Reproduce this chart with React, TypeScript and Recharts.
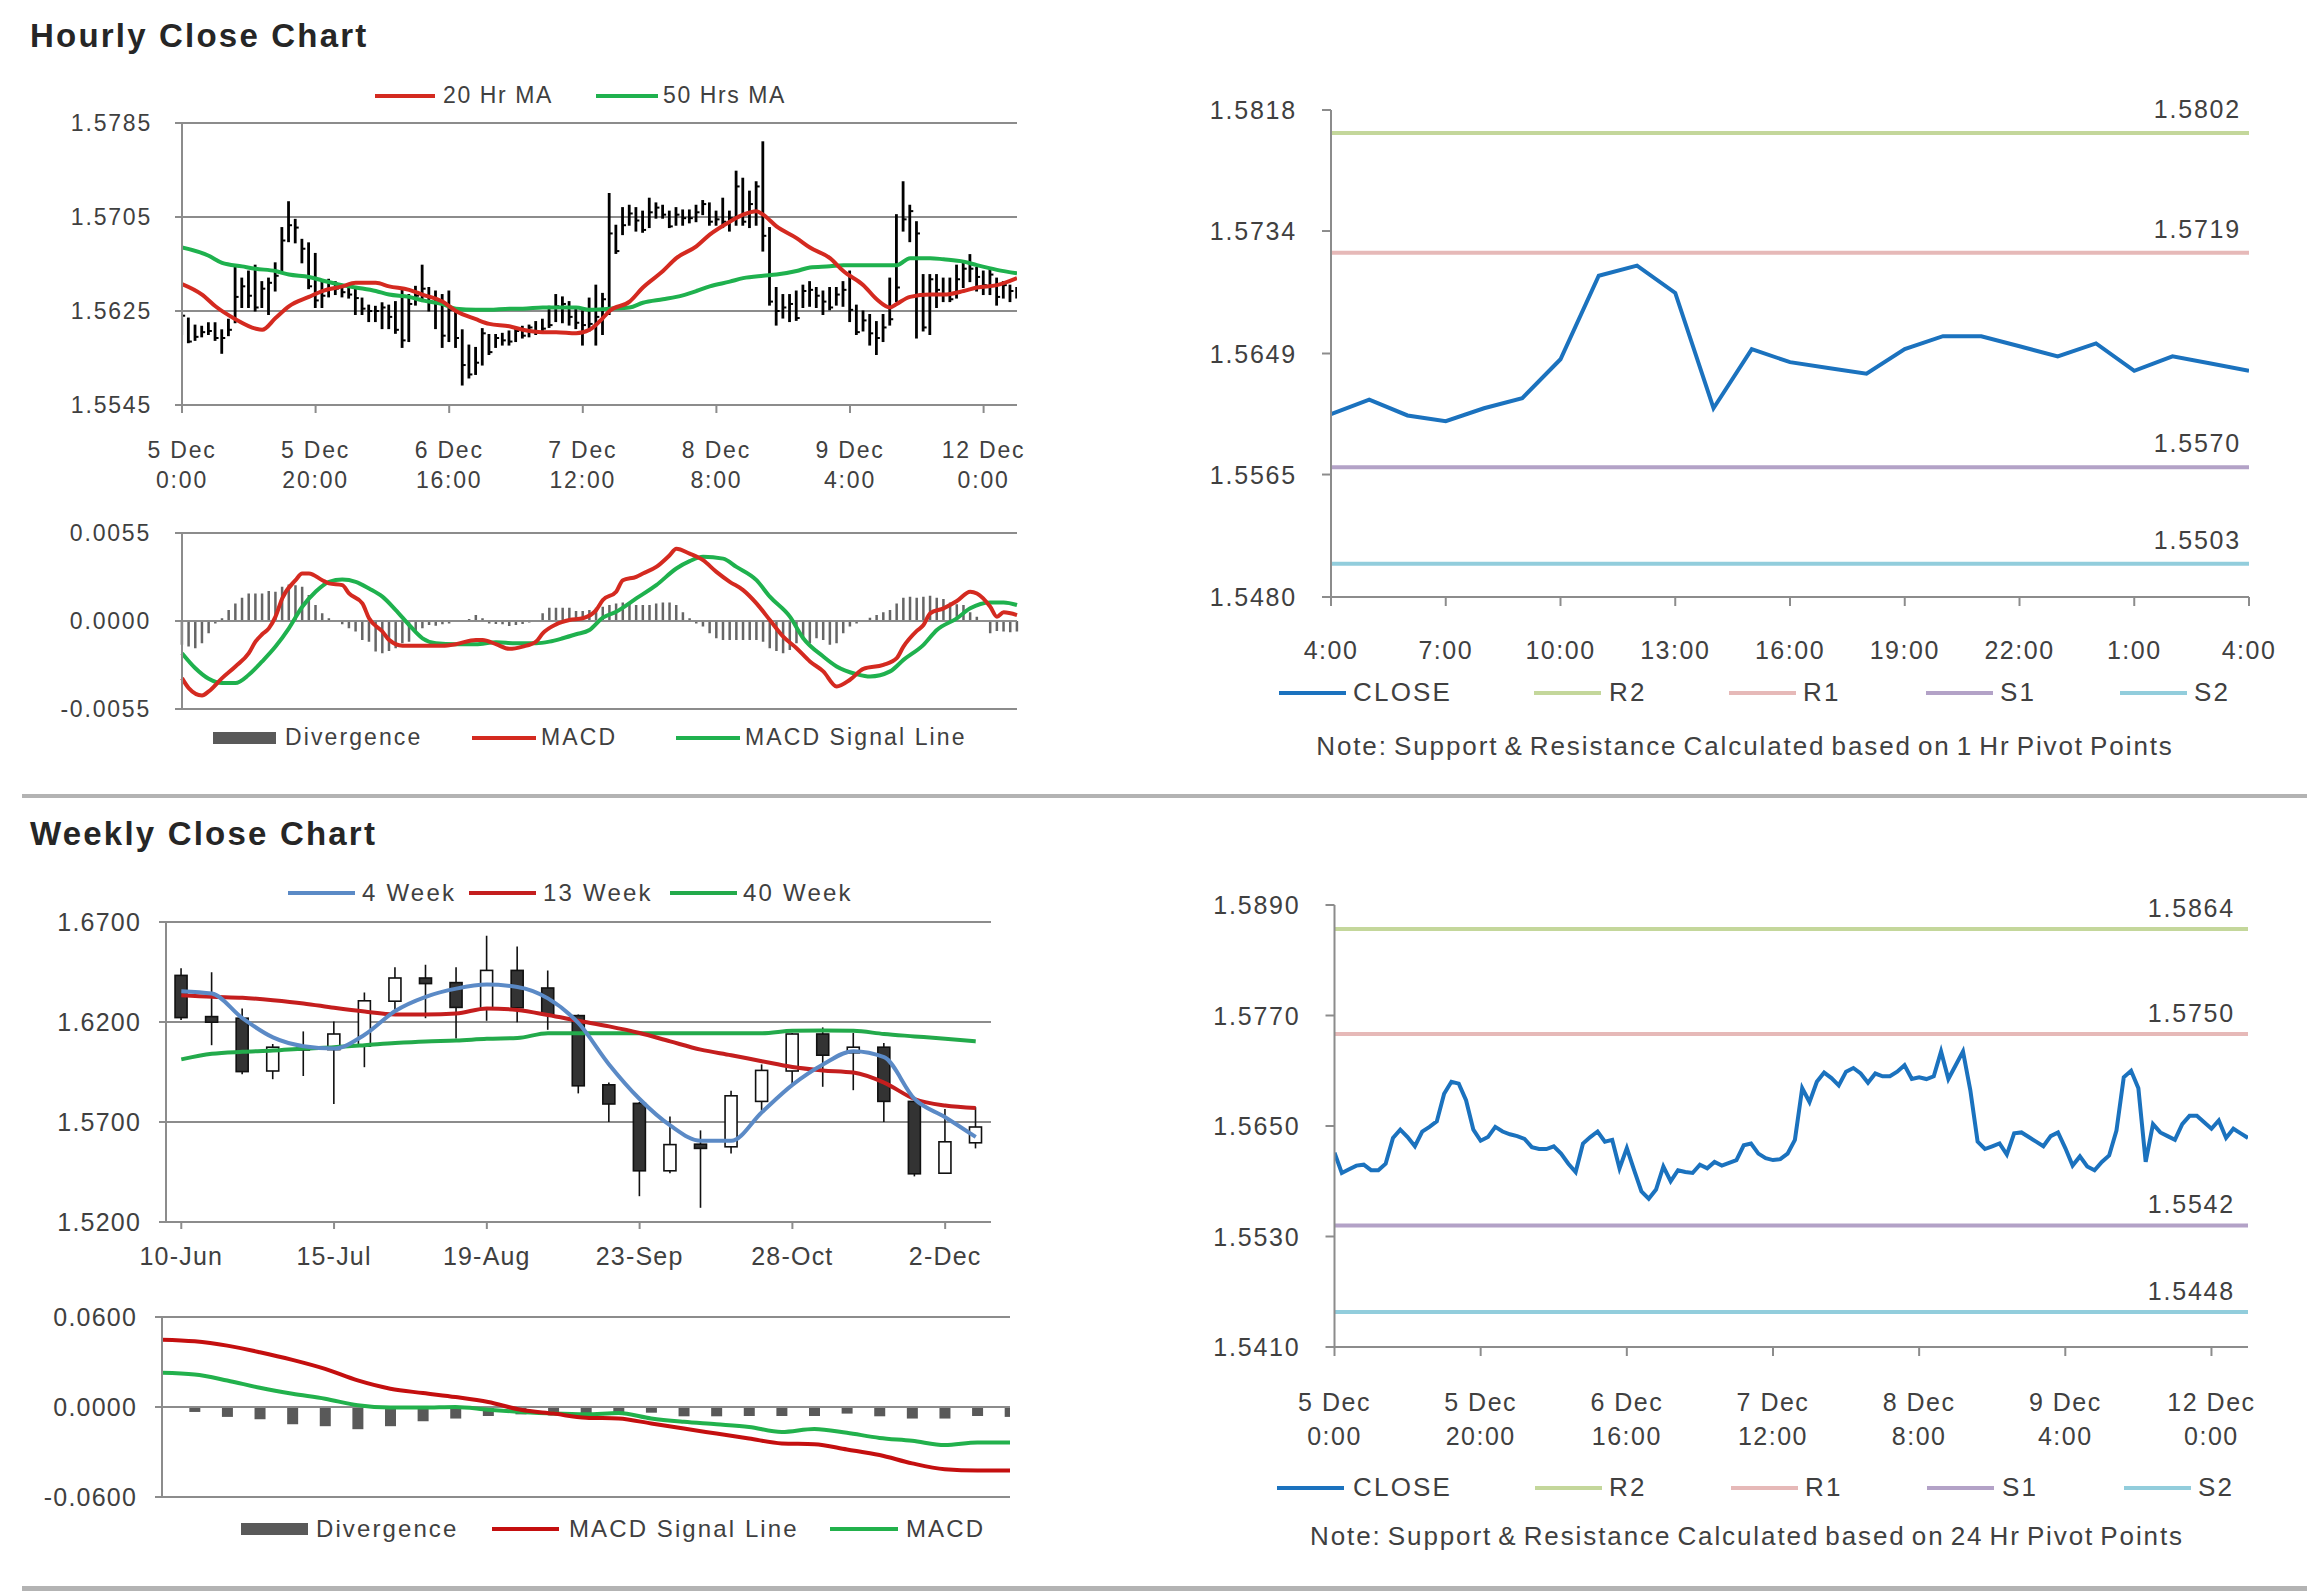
import React from 'react';
import { ComposedChart, LineChart, Line, Bar, XAxis, YAxis, CartesianGrid, ReferenceLine } from 'recharts';

// ---------------- DATA ----------------
// Hourly series, index 0 = 5 Dec 0:00 (one point per trading hour)
const hourlyClose = [
  1.5621, 1.5599, 1.5603, 1.5607, 1.5608, 1.5602, 1.5602, 1.5609, 1.5637, 1.5646,
  1.5638, 1.5628, 1.5644, 1.5649, 1.5655, 1.5685, 1.5698, 1.5696, 1.5678, 1.5646,
  1.5634, 1.5638, 1.5649, 1.5644, 1.5641, 1.5639, 1.5636, 1.5627, 1.5625, 1.5625,
  1.5628, 1.5620, 1.5609, 1.5600, 1.5631, 1.5638, 1.5644, 1.5633, 1.5635, 1.5604,
  1.5626, 1.5602, 1.5579, 1.5571, 1.5581, 1.5606, 1.5590, 1.5602, 1.5600, 1.5599,
  1.5608, 1.5604, 1.5611, 1.5607, 1.5610, 1.5613, 1.5629, 1.5631, 1.5620, 1.5615,
  1.5613, 1.5614, 1.5620, 1.5635, 1.5691, 1.5676, 1.5698, 1.5708, 1.5702, 1.5694,
  1.5709, 1.5713, 1.5707, 1.5697, 1.5707, 1.5704, 1.5704, 1.5709, 1.5716, 1.5701,
  1.5703, 1.5701, 1.5704, 1.5731, 1.5701, 1.5716, 1.5731, 1.5689, 1.5633, 1.5625,
  1.5628, 1.5631, 1.5619, 1.5642, 1.5643, 1.5638, 1.5633, 1.5628, 1.5639, 1.5643,
  1.5626, 1.5607, 1.5617, 1.5606, 1.5602, 1.5611, 1.5618, 1.5645, 1.5703, 1.5710,
  1.5691, 1.5611, 1.5652, 1.5643, 1.5639, 1.5635, 1.5652, 1.5661, 1.5661, 1.5654,
  1.5647, 1.5656, 1.5637, 1.5647, 1.5642, 1.5637,
];
const hourlyHigh = [
  1.5622, 1.5619, 1.5613, 1.5612, 1.5615, 1.5615, 1.5609, 1.5618, 1.5662, 1.5653,
  1.5659, 1.5664, 1.5650, 1.5653, 1.5666, 1.5696, 1.5718, 1.5703, 1.5686, 1.5683,
  1.5674, 1.5650, 1.5652, 1.5650, 1.5647, 1.5647, 1.5645, 1.5636, 1.5630, 1.5629,
  1.5632, 1.5630, 1.5633, 1.5645, 1.5639, 1.5646, 1.5664, 1.5645, 1.5642, 1.5639,
  1.5642, 1.5625, 1.5609, 1.5596, 1.5594, 1.5610, 1.5605, 1.5605, 1.5606, 1.5608,
  1.5610, 1.5612, 1.5613, 1.5616, 1.5618, 1.5629, 1.5639, 1.5637, 1.5633, 1.5628,
  1.5625, 1.5636, 1.5647, 1.5640, 1.5725, 1.5698, 1.5713, 1.5715, 1.5713, 1.5710,
  1.5721, 1.5717, 1.5715, 1.5710, 1.5713, 1.5711, 1.5711, 1.5715, 1.5719, 1.5717,
  1.5710, 1.5721, 1.5710, 1.5744, 1.5738, 1.5727, 1.5735, 1.5769, 1.5696, 1.5645,
  1.5639, 1.5639, 1.5642, 1.5647, 1.5650, 1.5645, 1.5642, 1.5645, 1.5645, 1.5650,
  1.5659, 1.5630, 1.5625, 1.5622, 1.5616, 1.5622, 1.5653, 1.5707, 1.5735, 1.5715,
  1.5701, 1.5656, 1.5656, 1.5656, 1.5653, 1.5653, 1.5664, 1.5667, 1.5673, 1.5662,
  1.5659, 1.5660, 1.5653, 1.5650, 1.5647, 1.5645,
];
const hourlyLow = [
  1.5605, 1.5598, 1.5600, 1.5603, 1.5605, 1.5600, 1.5589, 1.5604, 1.5615, 1.5628,
  1.5628, 1.5625, 1.5628, 1.5622, 1.5642, 1.5659, 1.5684, 1.5683, 1.5666, 1.5644,
  1.5628, 1.5628, 1.5637, 1.5639, 1.5637, 1.5636, 1.5622, 1.5622, 1.5616, 1.5616,
  1.5610, 1.5610, 1.5606, 1.5594, 1.5599, 1.5630, 1.5633, 1.5625, 1.5610, 1.5594,
  1.5599, 1.5594, 1.5562, 1.5568, 1.5571, 1.5579, 1.5588, 1.5594, 1.5596, 1.5596,
  1.5599, 1.5602, 1.5603, 1.5605, 1.5608, 1.5611, 1.5616, 1.5615, 1.5613, 1.5610,
  1.5596, 1.5608, 1.5596, 1.5605, 1.5622, 1.5674, 1.5690, 1.5698, 1.5693, 1.5692,
  1.5696, 1.5704, 1.5704, 1.5696, 1.5698, 1.5698, 1.5700, 1.5701, 1.5707, 1.5698,
  1.5698, 1.5696, 1.5693, 1.5698, 1.5698, 1.5696, 1.5698, 1.5676, 1.5630, 1.5613,
  1.5619, 1.5616, 1.5617, 1.5628, 1.5629, 1.5628, 1.5622, 1.5626, 1.5630, 1.5629,
  1.5616, 1.5605, 1.5608, 1.5596, 1.5588, 1.5599, 1.5613, 1.5633, 1.5693, 1.5684,
  1.5602, 1.5608, 1.5605, 1.5628, 1.5633, 1.5633, 1.5636, 1.5645, 1.5650, 1.5642,
  1.5639, 1.5639, 1.5630, 1.5636, 1.5633, 1.5636,
];
const hourlyTickIdx = [0, 20, 40, 60, 80, 100, 120];
const hourlyTickLabels = [
  ['5 Dec', '0:00'], ['5 Dec', '20:00'], ['6 Dec', '16:00'], ['7 Dec', '12:00'],
  ['8 Dec', '8:00'], ['9 Dec', '4:00'], ['12 Dec', '0:00'],
];
// moving averages read at key hours: [hourIndex, value]
const ma20Hourly: [number, number][] = [
  [0, 1.5648], [3, 1.5639], [5, 1.5629], [8, 1.5618], [11, 1.5610], [12, 1.5609], [14, 1.5619],
  [16, 1.5629], [19, 1.5637], [21, 1.5642], [24, 1.5646], [26, 1.5649], [29, 1.5649], [31, 1.5646],
  [34, 1.5643], [36, 1.5639], [39, 1.5633], [41, 1.5625], [44, 1.5618], [46, 1.5614], [49, 1.5612],
  [51, 1.5609], [54, 1.5607], [56, 1.5607], [59, 1.5606], [61, 1.5609], [63, 1.5619], [64, 1.5625],
  [67, 1.5633], [69, 1.5645], [72, 1.5659], [74, 1.5670], [77, 1.5680], [79, 1.5690], [82, 1.5701],
  [84, 1.5707], [86, 1.5710], [87, 1.5707], [89, 1.5697], [92, 1.5687], [94, 1.5679], [97, 1.5670],
  [99, 1.5659], [102, 1.5647], [104, 1.5635], [106, 1.5628], [107, 1.5631], [109, 1.5637],
  [112, 1.5639], [114, 1.5639], [117, 1.5642], [119, 1.5645], [122, 1.5647], [125, 1.5653],
];
const ma50Hourly: [number, number][] = [
  [0, 1.5679], [4, 1.5672], [6, 1.5666], [9, 1.5663], [11, 1.5661], [14, 1.5659], [16, 1.5656],
  [19, 1.5654], [21, 1.5651], [24, 1.5647], [26, 1.5645], [29, 1.5642], [31, 1.5639], [34, 1.5637],
  [36, 1.5634], [39, 1.5631], [41, 1.5627], [44, 1.5626], [46, 1.5626], [49, 1.5627], [51, 1.5627],
  [54, 1.5628], [59, 1.5628], [61, 1.5626], [64, 1.5627], [67, 1.5628], [69, 1.5632], [72, 1.5635],
  [74, 1.5637], [77, 1.5642], [79, 1.5646], [82, 1.5650], [84, 1.5653], [87, 1.5655], [89, 1.5656],
  [92, 1.5659], [94, 1.5662], [97, 1.5663], [99, 1.5664], [102, 1.5664], [104, 1.5664], [107, 1.5664],
  [109, 1.5670], [112, 1.5670], [114, 1.5669], [117, 1.5667], [119, 1.5664], [122, 1.5660], [125, 1.5657],
];
const macdHourly: [number, number][] = [
  [0, -0.00357], [1, -0.00419], [3, -0.00465], [4, -0.0044], [6, -0.00357], [8, -0.00284],
  [10, -0.00201], [11, -0.00129], [12, -0.00083], [13, -0.00046], [14, 0.00027], [15, 0.00141],
  [17, 0.00255], [18, 0.00297], [19, 0.00297], [21, 0.00255], [22, 0.00235], [24, 0.00224],
  [25, 0.00172], [27, 0.0011], [28, 0.00017], [30, -0.00066], [31, -0.00118], [33, -0.00154],
  [36, -0.00154], [39, -0.00154], [41, -0.00145], [44, -0.00118], [45, -0.00118], [47, -0.00145],
  [49, -0.00174], [51, -0.0016], [53, -0.00129], [54, -0.00077], [56, -0.00021], [58, 0.00006],
  [60, 0.00017], [62, 0.00068], [63, 0.00131], [65, 0.00183], [66, 0.00255], [68, 0.00276],
  [69, 0.00297], [71, 0.00338], [73, 0.00411], [74, 0.00452], [76, 0.00421], [78, 0.0038],
  [80, 0.00307], [82, 0.00245], [84, 0.00193], [86, 0.0011], [88, 0.00006], [90, -0.00098],
  [92, -0.0017], [94, -0.00253], [96, -0.00315], [98, -0.00409], [100, -0.00367], [102, -0.00299],
  [105, -0.00274], [107, -0.00232], [108, -0.0016], [110, -0.00062], [111, -0.00025], [112, 0.00048],
  [114, 0.00079], [116, 0.00125], [118, 0.00183], [119, 0.00172], [121, 0.00089], [122, 0.00027],
  [123, 0.00054], [125, 0.00037],
];
const signalHourly: [number, number][] = [
  [0, -0.00201], [2, -0.00295], [4, -0.00361], [6, -0.00388], [8, -0.00388], [10, -0.00336],
  [12, -0.00253], [14, -0.0016], [16, -0.00046], [18, 0.00089], [20, 0.00183], [22, 0.00245],
  [24, 0.00259], [26, 0.00245], [28, 0.00203], [30, 0.00152], [32, 0.00068], [34, -0.00025],
  [36, -0.00108], [38, -0.00139], [41, -0.00145], [44, -0.00145], [47, -0.00133], [50, -0.00139],
  [53, -0.00139], [55, -0.00129], [57, -0.00108], [59, -0.00083], [61, -0.00056], [63, 0.00021],
  [65, 0.00058], [68, 0.00141], [71, 0.00224], [74, 0.00328], [76, 0.00374], [78, 0.00401],
  [81, 0.0039], [83, 0.00338], [86, 0.00255], [88, 0.00152], [91, 0.00027], [93, -0.00108],
  [96, -0.00222], [98, -0.00284], [101, -0.00332], [103, -0.00347], [106, -0.00315], [108, -0.00243],
  [111, -0.00149], [113, -0.00056], [116, 0.00017], [118, 0.00079], [121, 0.00116], [123, 0.00116],
  [125, 0.001],
];
const divergenceHourly = [
  -0.00149, -0.0016, -0.0017, -0.00139, -0.00077, -0.00015, 0.00017, 0.00068, 0.0011, 0.00145,
  0.00172, 0.00172, 0.00172, 0.00187, 0.00183, 0.00214, 0.00228, 0.00224, 0.00214, 0.00162,
  0.001, 0.00048, 0.00017, -0.00004, -0.00021, -0.00046, -0.00066, -0.00118, -0.00129, -0.00191,
  -0.00201, -0.00187, -0.0017, -0.00139, -0.00129, -0.00066, -0.00046, -0.00025, -0.00029, -0.00021,
  -0.00015, -0.00004, 0.00006, 0.00012, 0.00037, 0.00017, -0.00015, -0.00019, -0.00021, -0.00031,
  -0.00025, -0.00019, -0.0001, 0.00006, 0.00048, 0.00083, 0.00083, 0.00083, 0.00083, 0.00062,
  0.00062, 0.00068, 0.00083, 0.00089, 0.001, 0.0011, 0.00116, 0.00116, 0.001, 0.001,
  0.001, 0.0011, 0.00116, 0.00116, 0.001, 0.00054, 0.00017, -0.00015, -0.00035, -0.00077,
  -0.00108, -0.00118, -0.00118, -0.00118, -0.00118, -0.00118, -0.00118, -0.00129, -0.0017, -0.00187,
  -0.00201, -0.00181, -0.00139, -0.00118, -0.00139, -0.00108, -0.00118, -0.00149, -0.00139, -0.00077,
  -0.00035, -0.00015, 0.00006, 0.00021, 0.00037, 0.00054, 0.00068, 0.0011, 0.00145, 0.00152,
  0.00145, 0.00152, 0.00158, 0.00145, 0.00137, 0.00116, 0.00104, 0.001, 0.00054, 0.00027,
  -0.00004, -0.00077, -0.00062, -0.00066, -0.00071, -0.00066,
];
// last 24 hours panel starts at this hourly index
const lastDayStart = 101;
const lastDayTickLabels = ['4:00', '7:00', '10:00', '13:00', '16:00', '19:00', '22:00', '1:00', '4:00'];
const pivotNames = ['R2', 'R1', 'S1', 'S2'];
const pivots1h = [1.5802, 1.5719, 1.557, 1.5503];
const pivots24h = [1.5864, 1.575, 1.5542, 1.5448];

// Weekly series
const weeks = [
  '10-Jun', '17-Jun', '24-Jun', '1-Jul', '8-Jul', '15-Jul', '22-Jul', '29-Jul', '5-Aug', '12-Aug',
  '19-Aug', '26-Aug', '2-Sep', '9-Sep', '16-Sep', '23-Sep', '30-Sep', '7-Oct', '14-Oct', '21-Oct',
  '28-Oct', '4-Nov', '11-Nov', '18-Nov', '25-Nov', '2-Dec', '9-Dec',
];
const weeklyOpen = [
  1.6433, 1.6227, 1.6219, 1.5955, 1.607, 1.6062, 1.6079, 1.6304, 1.642, 1.6397, 1.6268, 1.6458, 1.637,
  1.6232, 1.5886, 1.5793, 1.5456, 1.5589, 1.5576, 1.5803, 1.5955, 1.614, 1.6046, 1.6074, 1.5803, 1.5444, 1.5596,
];
const weeklyHigh = [
  1.6469, 1.6449, 1.6268, 1.609, 1.6153, 1.6202, 1.6347, 1.6474, 1.6486, 1.6474, 1.6631, 1.6578, 1.6458,
  1.6238, 1.5897, 1.58, 1.5728, 1.5658, 1.5856, 1.5988, 1.6145, 1.6173, 1.6145, 1.6095, 1.5807, 1.5765, 1.5774,
];
const weeklyLow = [
  1.621, 1.6084, 1.5939, 1.5914, 1.593, 1.579, 1.5974, 1.6252, 1.6219, 1.6117, 1.6206, 1.6199, 1.6161,
  1.5843, 1.57, 1.5329, 1.5444, 1.5271, 1.5543, 1.5757, 1.5889, 1.5876, 1.5859, 1.57, 1.5428, 1.5441, 1.5568,
];
const weeklyClose = [
  1.6222, 1.6199, 1.5952, 1.6074, 1.6066, 1.614, 1.6306, 1.642, 1.6392, 1.6273, 1.6458, 1.6271, 1.6238,
  1.5881, 1.579, 1.5456, 1.5587, 1.5568, 1.5831, 1.5958, 1.614, 1.6034, 1.6074, 1.5803, 1.5441, 1.5601, 1.5675,
];
const ma4Week = [
  1.6354, 1.6342, 1.6219, 1.6123, 1.6079, 1.6067, 1.6136, 1.6255, 1.6326, 1.6367, 1.6387, 1.6375, 1.6318,
  1.6194, 1.5988, 1.5815, 1.5683, 1.5606, 1.5606, 1.5749, 1.5886, 1.5988, 1.6054, 1.6024, 1.5815, 1.5724, 1.5625,
];
const ma13Week = [
  1.6334, 1.6326, 1.6321, 1.6309, 1.6293, 1.6271, 1.6252, 1.6238, 1.6238, 1.6243, 1.6268, 1.626, 1.6235,
  1.6206, 1.6178, 1.6145, 1.6103, 1.6062, 1.6034, 1.6004, 1.5975, 1.5958, 1.5947, 1.5897, 1.5815, 1.5782, 1.577,
];
const ma40Week = [
  1.6013, 1.6041, 1.6051, 1.6057, 1.6067, 1.6074, 1.6084, 1.6095, 1.6103, 1.6107, 1.6116, 1.612, 1.6144,
  1.6144, 1.6144, 1.6144, 1.6144, 1.6144, 1.6144, 1.6144, 1.6156, 1.6158, 1.6156, 1.614, 1.6128, 1.6116, 1.6103,
];
const weeklySignal = [
  0.0449, 0.0438, 0.0409, 0.0365, 0.0314, 0.0254, 0.0177, 0.0122, 0.0093, 0.0066, 0.0033, -0.0018, -0.0044,
  -0.0071, -0.0077, -0.011, -0.0144, -0.0177, -0.021, -0.0243, -0.0248, -0.0283, -0.032, -0.0376, -0.0415, -0.0424, -0.0424,
];
const weeklyMacd = [
  0.0228, 0.0217, 0.0177, 0.0128, 0.0088, 0.0055, 0.0011, -0.0004, -0.0004, 0, -0.0018, -0.0033, -0.0044,
  -0.0049, -0.004, -0.0077, -0.0099, -0.0115, -0.0133, -0.0166, -0.0146, -0.0172, -0.0206, -0.0225, -0.0254, -0.0236, -0.0236,
];
const weeklyDivergence = [
  null, -0.0033, -0.0066, -0.0082, -0.0115, -0.0128, -0.0148, -0.0128, -0.0095, -0.0077, -0.006, -0.0049, -0.0055,
  -0.006, -0.0033, -0.0038, -0.0062, -0.0062, -0.006, -0.006, -0.006, -0.0044, -0.0062, -0.0077, -0.0077, -0.006, -0.0066,
];

// ---------------- STYLE ----------------
const FONT = '"Liberation Sans", Arial, Helvetica, sans-serif';
const TXT = '#404040';
const GRID = '#8c8c8c';
const RED = '#d42a20';
const GREEN = '#1fb14e';
const BLUE_CLOSE = '#1b72be';
const PIVOT_COLORS = ['#c4d79b', '#e6b9b8', '#b3a2c7', '#92cddc'];

const fmt4 = (v: number) => {
  const s = String(v);
  const neg = s.startsWith('-');
  const t = neg ? s.slice(1) : s;
  const [a, b = ''] = t.split('.');
  return (neg ? '-' : '') + a + '.' + (b + '0000').slice(0, 4);
};

const yTick = (fs: number, ls: number) => (p: any) => (
  <text x={p.x} y={p.y} dy={fs * 0.36} textAnchor="end" fill={TXT} fontSize={fs} fontFamily={FONT} letterSpacing={ls}>
    {fmt4(p.payload.value)}
  </text>
);

const twoLineTick = (ticks: number[], labels: string[][], fs: number, ls: number, dy1: number, dy2: number) => (p: any) => {
  const idx = ticks.indexOf(p.payload.value);
  const l = labels[idx] || ['', ''];
  return (
    <text x={p.x} y={p.y} textAnchor="middle" fill={TXT} fontSize={fs} fontFamily={FONT} letterSpacing={ls}>
      <tspan x={p.x} dy={dy1}>{l[0]}</tspan>
      <tspan x={p.x} dy={dy2}>{l[1]}</tspan>
    </text>
  );
};

const oneLineTick = (fmt: (p: any) => string, fs: number, ls: number, dy: number) => (p: any) => (
  <text x={p.x} y={p.y} dy={dy} textAnchor="middle" fill={TXT} fontSize={fs} fontFamily={FONT} letterSpacing={ls}>
    {fmt(p)}
  </text>
);

const HlcShape = (props: any) => {
  const { x, y, width, height, payload } = props;
  if (y == null || height == null || isNaN(y) || isNaN(height)) return null;
  const top = Math.min(y, y + height);
  const h = Math.abs(height);
  const cx = x + width / 2;
  const span = payload.high - payload.low;
  const k = span > 0 ? h / span : 0;
  const yc = top + (payload.high - payload.close) * k;
  return (
    <g>
      <line x1={cx} x2={cx} y1={top - 0.5} y2={top + h + 0.5} stroke="#000" strokeWidth={2.8} />
      <line x1={cx} x2={cx + 3.5} y1={yc} y2={yc} stroke="#000" strokeWidth={2} />
    </g>
  );
};

const CandleShape = (props: any) => {
  const { x, y, width, height, payload } = props;
  if (y == null || height == null || isNaN(y) || isNaN(height)) return null;
  const top = Math.min(y, y + height);
  const h = Math.abs(height);
  const cx = x + width / 2;
  const span = payload.high - payload.low;
  const k = span > 0 ? h / span : 0;
  const yo = top + (payload.high - payload.open) * k;
  const yc = top + (payload.high - payload.close) * k;
  const bt = Math.min(yo, yc);
  const bh = Math.max(Math.abs(yo - yc), 2);
  const up = payload.close >= payload.open;
  return (
    <g>
      <line x1={cx} x2={cx} y1={top} y2={top + h} stroke="#111" strokeWidth={1.6} />
      <rect x={cx - 6} y={bt} width={12} height={bh} fill={up ? '#ffffff' : '#333333'} stroke="#111" strokeWidth={1.6} />
    </g>
  );
};

const PivotLabel = (props: any) => {
  const vb = props.viewBox;
  if (!vb) return null;
  return (
    <text x={vb.x + vb.width - props.inset} y={vb.y - props.rise} textAnchor="end" fill={TXT}
      fontSize={25} fontFamily={FONT} letterSpacing={1.8}>
      {props.text}
    </text>
  );
};

type LegendItem = { label: string; color: string; box?: boolean; sx: number; sw: number; tx: number };
const LegendRow = ({ items, y, fs, ls }: { items: LegendItem[]; y: number; fs: number; ls: number }) => (
  <>
    {items.map((it) => (
      <React.Fragment key={it.label + it.sx}>
        <div style={{ position: 'absolute', left: it.sx, top: y - (it.box ? 6 : 2), width: it.sw, height: it.box ? 12 : 4, background: it.color }} />
        <div style={{ position: 'absolute', left: it.tx, top: y - fs * 0.6, fontSize: fs, lineHeight: `${fs * 1.2}px`, letterSpacing: ls, color: TXT, fontFamily: FONT, whiteSpace: 'nowrap' }}>
          {it.label}
        </div>
      </React.Fragment>
    ))}
  </>
);

const abs = (left: number, top: number): React.CSSProperties => ({ position: 'absolute', left, top });

// ---------------- PANELS ----------------
const hourlyRows = hourlyClose.map((c, i) => ({ i, close: c, high: hourlyHigh[i], low: hourlyLow[i], range: [hourlyLow[i], hourlyHigh[i]], div: divergenceHourly[i] }));
const pts = (arr: [number, number][]) => arr.map(([i, v]) => ({ i, v }));

const LFS = 23;
const LLS = 1.8;
const RFS = 25;
const RLS = 1.8;

function HourlyPrice() {
  return (
    <div style={abs(0, 110)}>
      <ComposedChart width={1040} height={400} data={hourlyRows} margin={{ top: 13, right: 23, bottom: 0, left: 0 }}>
        <CartesianGrid vertical={false} stroke={GRID} strokeWidth={2} />
        <XAxis dataKey="i" type="number" domain={[0, 125]} ticks={hourlyTickIdx} interval={0} height={105}
          axisLine={{ stroke: GRID, strokeWidth: 2 }} tickLine={{ stroke: GRID, strokeWidth: 2 }} tickSize={8} tickMargin={0}
          tick={twoLineTick(hourlyTickIdx, hourlyTickLabels, LFS, LLS, 45, 30)} allowDataOverflow />
        <YAxis type="number" domain={[1.5545, 1.5785]} ticks={[1.5545, 1.5625, 1.5705, 1.5785]} width={182} interval={0}
          axisLine={{ stroke: GRID, strokeWidth: 2 }} tickLine={{ stroke: GRID, strokeWidth: 2 }} tickSize={7} tickMargin={23}
          tick={yTick(LFS, LLS)} allowDataOverflow />
        <Bar dataKey="range" barSize={4} shape={<HlcShape />} isAnimationActive={false} />
        <Line data={pts(ma50Hourly)} dataKey="v" type="monotone" stroke={GREEN} strokeWidth={4} dot={false} isAnimationActive={false} />
        <Line data={pts(ma20Hourly)} dataKey="v" type="monotone" stroke={RED} strokeWidth={4} dot={false} isAnimationActive={false} />
      </ComposedChart>
    </div>
  );
}

function HourlyMacd() {
  return (
    <div style={abs(0, 520)}>
      <ComposedChart width={1040} height={225} data={hourlyRows} margin={{ top: 13, right: 23, bottom: 36, left: 0 }}>
        <CartesianGrid vertical={false} stroke={GRID} strokeWidth={2} />
        <XAxis dataKey="i" type="number" domain={[0, 125]} hide />
        <YAxis type="number" domain={[-0.0055, 0.0055]} ticks={[-0.0055, 0, 0.0055]} width={182} interval={0}
          axisLine={{ stroke: GRID, strokeWidth: 2 }} tickLine={{ stroke: GRID, strokeWidth: 2 }} tickSize={7} tickMargin={24}
          tick={yTick(LFS, LLS)} allowDataOverflow />
        <ReferenceLine y={0} stroke={GRID} strokeWidth={2} />
        <Bar dataKey="div" barSize={2.5} fill="#666666" isAnimationActive={false} />
        <Line data={pts(signalHourly)} dataKey="v" type="monotone" stroke={GREEN} strokeWidth={4} dot={false} isAnimationActive={false} />
        <Line data={pts(macdHourly)} dataKey="v" type="monotone" stroke={RED} strokeWidth={4} dot={false} isAnimationActive={false} />
      </ComposedChart>
    </div>
  );
}

const lastDayRows = hourlyClose.slice(lastDayStart).map((c, h) => ({ h, close: c }));
const lastDayTicks = lastDayTickLabels.map((_, k) => k * 3);

function PivotPanel(props: {
  left: number; top: number; height: number; yTop: number; yDomain: [number, number]; yTicks: number[];
  data: any[]; xKey: string; xDomain: [number, number]; xTicks: number[]; xTick: any; xHeight: number;
  pivots: number[]; rise: number; inset: number; yAxisW: number; right: number;
}) {
  return (
    <div style={abs(props.left, props.top)}>
      <LineChart width={1107} height={props.height} data={props.data} margin={{ top: props.yTop, right: props.right, bottom: 0, left: 0 }}>
        <XAxis dataKey={props.xKey} type="number" domain={props.xDomain} ticks={props.xTicks} interval={0} height={props.xHeight}
          axisLine={{ stroke: GRID, strokeWidth: 2 }} tickLine={{ stroke: GRID, strokeWidth: 2 }} tickSize={9} tickMargin={0}
          tick={props.xTick} allowDataOverflow />
        <YAxis type="number" domain={props.yDomain} ticks={props.yTicks} width={props.yAxisW} interval={0}
          axisLine={{ stroke: GRID, strokeWidth: 2 }} tickLine={{ stroke: GRID, strokeWidth: 2 }} tickSize={9} tickMargin={25}
          tick={yTick(RFS, RLS)} allowDataOverflow />
        {props.pivots.map((v, k) => (
          <ReferenceLine key={pivotNames[k]} y={v} stroke={PIVOT_COLORS[k]} strokeWidth={4}
            label={<PivotLabel text={fmt4(v)} rise={props.rise} inset={props.inset} />} />
        ))}
        <Line dataKey="close" type="linear" stroke={BLUE_CLOSE} strokeWidth={4} dot={false} isAnimationActive={false} />
      </LineChart>
    </div>
  );
}

const weeklyRows = weeks.map((w, k) => ({
  week: w, open: weeklyOpen[k], high: weeklyHigh[k], low: weeklyLow[k], close: weeklyClose[k],
  range: [weeklyLow[k], weeklyHigh[k]], ma4: ma4Week[k], ma13: ma13Week[k], ma40: ma40Week[k],
}));

function WeeklyPrice() {
  return (
    <div style={abs(0, 905)}>
      <ComposedChart width={1040} height={380} data={weeklyRows} margin={{ top: 17, right: 49, bottom: 0, left: 0 }}>
        <CartesianGrid vertical={false} stroke={GRID} strokeWidth={2} />
        <XAxis dataKey="week" type="category" interval={4} height={63}
          axisLine={{ stroke: GRID, strokeWidth: 2 }} tickLine={{ stroke: GRID, strokeWidth: 2 }} tickSize={7} tickMargin={0}
          tick={oneLineTick((p) => p.payload.value, 25, 1.2, 36)} />
        <YAxis type="number" domain={[1.52, 1.67]} ticks={[1.52, 1.57, 1.62, 1.67]} width={166} interval={0}
          axisLine={{ stroke: GRID, strokeWidth: 2 }} tickLine={{ stroke: GRID, strokeWidth: 2 }} tickSize={7} tickMargin={18}
          tick={yTick(25, 1.2)} allowDataOverflow />
        <Bar dataKey="range" shape={<CandleShape />} isAnimationActive={false} />
        <Line dataKey="ma40" type="monotone" stroke="#23aa4b" strokeWidth={4} dot={false} isAnimationActive={false} />
        <Line dataKey="ma13" type="monotone" stroke="#c41e1e" strokeWidth={4} dot={false} isAnimationActive={false} />
        <Line dataKey="ma4" type="monotone" stroke="#5b8ac6" strokeWidth={4} dot={false} isAnimationActive={false} />
      </ComposedChart>
    </div>
  );
}

const weeklyMacdRows = weeks.map((w, k) => ({ k, signal: weeklySignal[k], macd: weeklyMacd[k], div: weeklyDivergence[k] }));

function WeeklyMacd() {
  return (
    <div style={abs(0, 1300)}>
      <ComposedChart width={1040} height={225} data={weeklyMacdRows} margin={{ top: 17, right: 30, bottom: 28, left: 0 }}>
        <CartesianGrid vertical={false} stroke={GRID} strokeWidth={2} />
        <XAxis dataKey="k" type="number" domain={[0, 26]} hide allowDataOverflow />
        <YAxis type="number" domain={[-0.06, 0.06]} ticks={[-0.06, 0, 0.06]} width={162} interval={0}
          axisLine={{ stroke: GRID, strokeWidth: 2 }} tickLine={{ stroke: GRID, strokeWidth: 2 }} tickSize={7} tickMargin={18}
          tick={yTick(25, 1.2)} allowDataOverflow />
        <ReferenceLine y={0} stroke={GRID} strokeWidth={2} />
        <Bar dataKey="div" barSize={11} fill="#595959" isAnimationActive={false} />
        <Line dataKey="macd" type="monotone" stroke="#22b14c" strokeWidth={4} dot={false} isAnimationActive={false} />
        <Line dataKey="signal" type="monotone" stroke="#c40f0f" strokeWidth={4} dot={false} isAnimationActive={false} />
      </ComposedChart>
    </div>
  );
}

const pivotLegend = (sxs: number[], txs: number[]): LegendItem[] => [
  { label: 'CLOSE', color: BLUE_CLOSE, sx: sxs[0], sw: 67, tx: txs[0] },
  ...pivotNames.map((n, k) => ({ label: n, color: PIVOT_COLORS[k], sx: sxs[k + 1], sw: 67, tx: txs[k + 1] })),
];

const Title = ({ text, top }: { text: string; top: number }) => (
  <div style={{ position: 'absolute', left: 30, top, fontFamily: FONT, fontWeight: 'bold', fontSize: 33, lineHeight: '33px', letterSpacing: 2.2, color: '#262626', whiteSpace: 'nowrap' }}>
    {text}
  </div>
);

const Note = ({ text, cx, y }: { text: string; cx: number; y: number }) => (
  <div style={{ position: 'absolute', left: cx - 600, width: 1200, top: y - 16, textAlign: 'center', fontFamily: FONT, fontSize: 26, lineHeight: '31px', letterSpacing: 1.9, wordSpacing: -3, color: TXT, whiteSpace: 'nowrap' }}>
    {text}
  </div>
);

export default function App() {
  return (
    <div style={{ position: 'absolute', left: 0, top: 0, width: 2307, height: 1592, background: '#ffffff', overflow: 'hidden' }}>
      <Title text="Hourly Close Chart" top={19} />
      <Title text="Weekly Close Chart" top={817} />

      <HourlyPrice />
      <HourlyMacd />
      <LegendRow y={96} fs={LFS} ls={1.6} items={[
        { label: '20 Hr MA', color: RED, sx: 375, sw: 60, tx: 443 },
        { label: '50 Hrs MA', color: GREEN, sx: 596, sw: 62, tx: 663 },
      ]} />
      <LegendRow y={738} fs={LFS} ls={2.1} items={[
        { label: 'Divergence', color: '#595959', box: true, sx: 213, sw: 63, tx: 285 },
        { label: 'MACD', color: RED, sx: 472, sw: 64, tx: 541 },
        { label: 'MACD Signal Line', color: GREEN, sx: 676, sw: 64, tx: 745 },
      ]} />

      <PivotPanel left={1200} top={90} height={600} yTop={20} yDomain={[1.548, 1.5818]}
        yTicks={[1.548, 1.5565, 1.5649, 1.5734, 1.5818]} data={lastDayRows} xKey="h" xDomain={[0, 24]} xTicks={lastDayTicks}
        xTick={oneLineTick((p) => lastDayTickLabels[lastDayTicks.indexOf(p.payload.value)] || '', RFS, 1.5, 53)} xHeight={93}
        pivots={pivots1h} rise={15} inset={8} yAxisW={131} right={58} />
      <LegendRow y={693} fs={26} ls={2.2} items={pivotLegend([1279, 1534, 1729, 1926, 2120], [1353, 1609, 1803, 2000, 2194])} />
      <Note text="Note: Support & Resistance Calculated based on 1 Hr Pivot Points" cx={1745} y={747} />

      <div style={{ position: 'absolute', left: 22, top: 794, width: 2285, height: 4, background: '#b3b3b3' }} />

      <WeeklyPrice />
      <WeeklyMacd />
      <LegendRow y={893} fs={24} ls={2.2} items={[
        { label: '4 Week', color: '#5b8ac6', sx: 288, sw: 67, tx: 362 },
        { label: '13 Week', color: '#c41e1e', sx: 469, sw: 67, tx: 543 },
        { label: '40 Week', color: '#23aa4b', sx: 670, sw: 67, tx: 743 },
      ]} />
      <LegendRow y={1529} fs={24} ls={2.1} items={[
        { label: 'Divergence', color: '#595959', box: true, sx: 241, sw: 67, tx: 316 },
        { label: 'MACD Signal Line', color: '#c40f0f', sx: 492, sw: 67, tx: 569 },
        { label: 'MACD', color: '#22b14c', sx: 830, sw: 68, tx: 906 },
      ]} />

      <PivotPanel left={1200} top={885} height={600} yTop={20} yDomain={[1.541, 1.589]}
        yTicks={[1.541, 1.553, 1.565, 1.577, 1.589]} data={hourlyRows} xKey="i" xDomain={[0, 125]} xTicks={hourlyTickIdx}
        xTick={twoLineTick(hourlyTickIdx, hourlyTickLabels, RFS, 1.5, 55, 34)} xHeight={138}
        pivots={pivots24h} rise={12} inset={13} yAxisW={134.5} right={59} />
      <LegendRow y={1488} fs={26} ls={2.2} items={pivotLegend([1277, 1535, 1731, 1927, 2124], [1353, 1609, 1805, 2002, 2198])} />
      <Note text="Note: Support & Resistance Calculated based on 24 Hr Pivot Points" cx={1747} y={1537} />

      <div style={{ position: 'absolute', left: 22, top: 1586, width: 2285, height: 5, background: '#b3b3b3' }} />
    </div>
  );
}
